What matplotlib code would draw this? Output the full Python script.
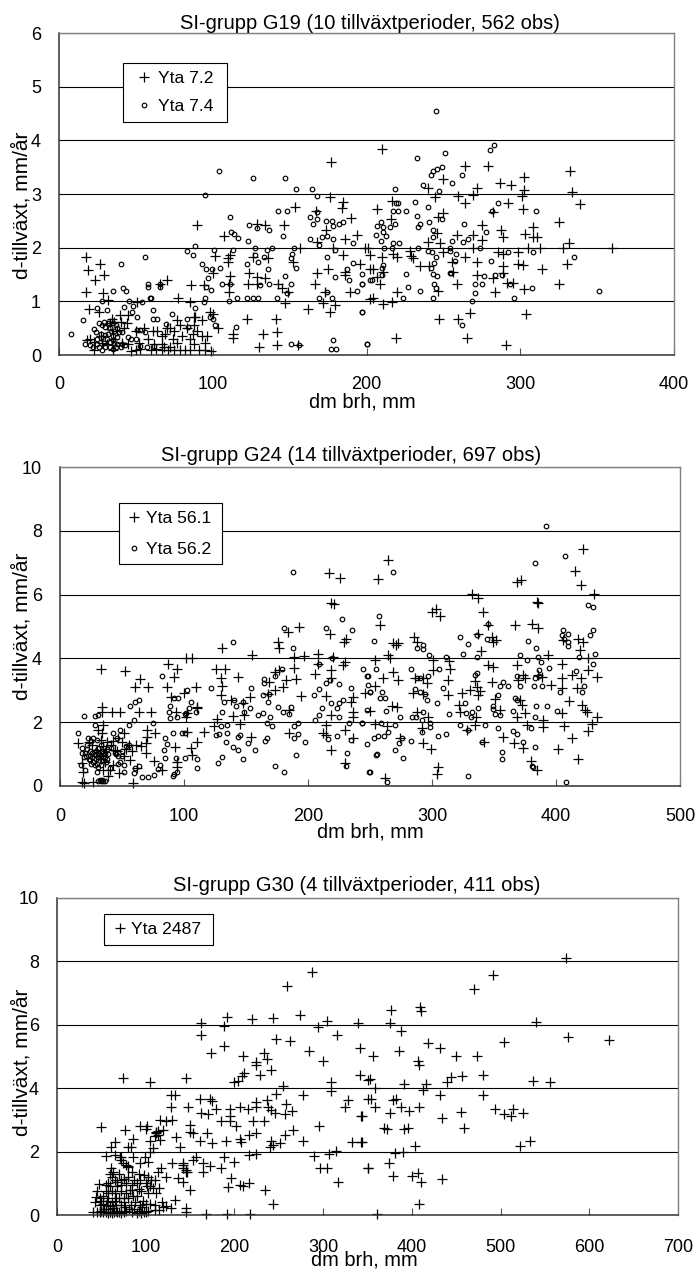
import numpy as np
import matplotlib
matplotlib.use("Agg")
from matplotlib import pyplot as plt

plt.rcParams['font.family'] = ['Liberation Sans', 'DejaVu Sans']

# (dm brh, d-tillväxt)
yta72 = [(17.4,1.82),(26.9,1.7),(19,1.58),(29,1.49),(23.6,1.39),(17.4,1.17),(28.4,1.16),(32,1.02),(19.7,.85),(26.2,.81),
 (34.3,.68),(39.7,.75),(33,.6),(20,.3),(23,.25),(35,.3),(38,.45),(42,.5),(23,.1),(35,.1),(18,.28),(27,.35),(45,.75),
 (47,.08),(50,.1),(53,.12),(50,.45),(55,.5),(60,.1),(62,.2),(63,.12),(67,.1),(67,.35),(72,.5),(69,.4),(75,.45),(77,.65),
 (79,.55),(75,.1),(79,.1),(82,.1),(85,.1),(85,.3),(88,.55),(88,.7),(93,.65),(88,.2),(93,.35),(95,.1),(99,.08),(91,.1),
 (95,.22),(72,.15),(67,.2),(70,.5),(50.5,.98),(70,1.39),(65.7,1.33),(77.6,1.07),(85,.98),(86,1.3),(94,1.3),(98,.81),
 (100,.76),(88.5,.71),(103.7,.5),(113,.39),(113,.31),(122,.68),(141,.68),(133,.4),(142,.42),(130,.14),(142,.19),(155.7,.19),
 (101.5,1.84),(110,1.8),(111,1.86),(110,1.74),(100,1.52),(111,1.48),(110.8,1.18),(110.8,1.33),(90,2.42),(107,2.22),(126,1.82),
 (128.6,2.45),(134,2.42),(146.6,2.43),(153.7,2.75),(156.8,1.99),(152.4,1.74),(123.8,1.52),(123,1.33),(128.6,1.46),(128.6,1.33),
 (134,1.43),(136,1.8),(142.7,1.33),(144.8,1.24),(149,1.18),(147,.96),(161.8,.85),(177,3.6),(176,2.95),(185,2.86),(184,2.73),
 (190,2.55),(167,2.68),(173.7,2.33),(168,2.11),(178.5,1.99),(185,1.86),(175,1.61),(167.7,1.52),(166.6,1.33),(173,1.18),
 (186,1.55),(186,1.49),(195.9,1.7),(189,1.18),(172,.96),(179.6,.93),(176,.81),(193.7,2.24),(186,2.17),(201,1.99),(202,1.61),
 (202,1.04),(209.9,3.83),(264,3.52),(279,3.52),(332.5,3.43),(302.7,3.32),(249.6,3.28),(287,3.2),(294,3.17),(240,3.11),
 (271.7,3.11),(302.7,3.07),(333.5,3.04),(244.6,2.95),(259.8,2.97),(269.5,2.98),(301,2.96),(216.8,2.87),(264,2.84),(291.9,2.84),
 (339,2.81),(207,2.72),(302,2.72),(282.6,2.67),(249.6,2.64),(246.8,2.57),(216,2.53),(324.9,2.47),(275.4,2.43),(308,2.39),
 (287.6,2.33),(245.7,2.28),(258.7,2.24),(269,2.24),(303,2.25),(308.6,2.19),(310.8,2.19),(275,2.14),(289,2.19),(240,2.11),
 (247.9,2.08),(332,2.08),(328,2),(359.6,1.99),(313,1.99),(305,1.99),(269.5,1.99),(199,1.99),(228,1.93),(229,1.85),(230.5,1.8),
 (202,1.86),(210,1.83),(219.7,1.82),(217.5,1.89),(250,1.91),(285.8,1.91),(289,1.89),(298.8,1.91),(264,1.82),(255.5,1.74),
 (272,1.73),(234.8,1.66),(240.9,1.66),(298.8,1.7),(302,1.67),(289,1.65),(204.5,1.61),(314,1.61),(330.7,1.7),(211,1.55),
 (256.5,1.55),(271.7,1.5),(282.6,1.43),(289,1.52),(206.6,1.46),(208.8,1.32),(258.7,1.32),(291.2,1.34),(295.6,1.34),(324.9,1.32),
 (302.7,1.23),(283.7,1.18),(220,1.18),(246.8,1.19),(204.5,1.06),(210.5,.95),(216.8,.98),(303.8,.76),(267.4,.79),(247.4,.67),
 (259.8,.67),(219,.32),(265.2,.32),(290.6,.19),(36,.62),(40,.62),(44,.6),(31,.55),(28,.22),(31,.2),(41,.22),(45,.2),(52,.22),
 (58,.3),(61,.45),(64,.45),(68,.14),(71,.1),(74,.3),(77,.22),(80,.35),(83,.5),(87,.4),(90,.45),(96,.35)]

yta74 = [(7.8,.4),(15.8,.66),(25,.87),(31,.84),(28,1.01),(35.4,1.19),(41.4,1.24),(43.6,1.19),(40.3,1.69),(56,1.83),(57.7,1.33),
 (57.7,1.27),(65.7,1.33),(66,1.27),(59,1.07),(60,1.07),(45.8,1.01),(53.8,.99),(48,.91),(42.3,.9),(47.3,.81),(50.5,.7),(61,.84),
 (61.4,.68),(63.5,.68),(73.3,.76),(69.8,.58),(50.5,.47),(56,.43),(52.7,.47),(83,.68),(88.5,.87),(84,.53),(98.3,.71),(100,.68),
 (94,.99),(95,1.07),(83.5,1.93),(87.4,1.86),(88.5,2.04),(100.9,1.96),(113.4,1.96),(92.8,1.69),(95.4,1.6),(99.3,1.6),(104.8,1.63),
 (96.7,1.43),(95.4,1.27),(98.9,1.22),(105.9,1.33),(111,1.33),(95,2.98),(104,3.42),(126.5,3.29),(147,3.29),(154,3.09),(164.4,3.09),
 (168,2.97),(142.7,2.68),(148,2.68),(111,2.57),(123.6,2.42),(112,2.3),(114,2.25),(116.5,2.18),(123.2,2.12),(136.7,2.33),(128.6,2.36),
 (146,2.22),(138.4,2),(135.6,1.96),(127.5,2),(127.5,1.86),(129.7,1.74),(122.6,1.7),(133.4,1.83),(135.8,1.61),(147,1.48),(150.8,1.33),
 (151.4,1.89),(153,2),(154,1.63),(151,1.8),(136.9,1.33),(130.8,1.3),(115.6,1.07),(110.8,1.01),(122.6,1.06),(126.5,1.07),(129.7,1.07),
 (142,1.07),(148,1.15),(101.5,.56),(115,.52),(151,.2),(168,2.67),(163.3,2.57),(168,2.53),(165.5,2.44),(173.7,2.5),(177.4,2.5),
 (178.5,2.4),(184.6,2.48),(182.4,2.45),(163.3,2.16),(169.3,2.05),(171.3,2.2),(174.6,2.22),(178.5,2.16),(190.9,2.09),(179.6,1.96),
 (174.6,1.83),(190.9,1.71),(179.6,1.46),(187.6,1.61),(188.3,1.4),(197,1.51),(197,1.33),(193.7,1.19),(177.4,1.07),(174,1.18),
 (168.8,1.07),(197,.81),(178.5,.28),(177,.11),(180,.11),(200,.2),(156,.19),(202,1.4),(17,.2),(20,.18),(22,.15),(25,.2),(28,.1),
 (30,.15),(33,.15),(35,.12),(37,.14),(40,.15),(25,.3),(27,.4),(23,.48),(28,.55),(30,.52),(33,.5),(38,.5),(37,.55),(30,.38),(32,.4),
 (35,.35),(35,.28),(38,.33),(34,.45),(47,.3),(45,.33),(50,.3),(53,.17),(62,.17),(57,.15),(245,4.55),(283,3.91),(280,3.82),(232.9,3.68),
 (251,3.76),(249.4,3.5),(246,3.47),(243,3.42),(241.8,3.36),(262.4,3.36),(255.5,3.2),(237,3.17),(247,3.06),(218.6,3.09),(231.8,2.86),
 (239.8,2.76),(220.7,2.83),(219.2,2.83),(285.8,2.83),(217.5,2.68),(220.7,2.68),(225.5,2.68),(232.7,2.59),(281.5,2.68),(310.3,2.68),
 (249,2.53),(209.3,2.48),(207,2.41),(210.5,2.39),(215.3,2.39),(218.6,2.44),(234.8,2.45),(233.8,2.38),(240.9,2.48),(263.5,2.45),
 (277.8,2.3),(211,2.3),(206.2,2.24),(213,2.22),(243,2.33),(243,2.2),(255.5,2.13),(266.3,2.17),(262.6,2.1),(209.3,2.13),(217.5,2.09),
 (221.4,2.09),(211.4,2),(216.4,2),(233.8,2),(254,2),(273.9,2),(240.3,1.93),(242.4,1.91),(254,1.94),(258.3,1.89),(245.2,1.83),
 (292.3,1.92),(308.6,1.92),(335,1.83),(280.8,1.75),(244,1.71),(257.6,1.75),(241.8,1.63),(210.5,1.68),(209.9,1.62),(209.9,1.5),
 (225.5,1.51),(243.1,1.51),(246.1,1.48),(254,1.52),(255,1.52),(276.7,1.48),(283.6,1.5),(288,1.5),(203.4,1.4),(244,1.33),(270.6,1.33),
 (275,1.33),(293.4,1.33),(197,1.33),(226.8,1.27),(245.2,1.24),(234.8,1.19),(270.6,1.15),(307.5,1.24),(351.5,1.19),(223.6,1.07),
 (243,1.07),(296.2,1.07),(268.5,1.01),(196.9,.81),(262.4,.55),(200,.2),(26,.6),(29,.62),(32,.6),(35,.6),(24,.42),(27,.32),(31,.3),
 (33,.25),(36,.22),(38,.2),(41,.2),(43,.18),(39,.42),(41,.42),(36,.45),(29,.22),(26,.15)]

yta561 = [(33,3.66),(52.7,3.59),(64.9,3.36),(60.3,3.11),(70.8,3.11),(87.3,3.84),(94.6,3.66),(91.9,3.42),(85.9,3.11),(101.4,4),(106.8,4),
 (109.5,3.09),(100,2.9),(89.2,2.8),(131,4.34),(175.7,4.52),(177,4.34),(154.9,4.1),(126.2,3.66),(133.2,3.66),(143.2,3.42),(129.7,3.37),
 (131,3.13),(129.7,2.85),(33.8,2.48),(33.8,2.33),(41.9,2.33),(48.6,2.33),(63.5,2.33),(73,2.33),(93.2,2.33),(102.7,2.28),(110.8,2.43),
 (35,1.91),(14.9,1.36),(23,1.39),(29.7,1.13),(17.6,.73),(18.9,.43),(17.6,.14),(27,.14),(19,.08),(58.9,.08),(47.3,.4),(39,.3),(43,.66),
 (56.8,.81),(75.7,.79),(69.7,1.04),(69.7,1.34),(70.3,1.54),(77,1.65),(70.3,1.75),(51.4,1.65),(50,1.39),(55.4,1.28),(61,1.28),(44.6,1.13),
 (37.8,1.39),(33.8,1.65),(94,.76),(94,.6),(92.4,1.21),(105.4,1.18),(106.8,.97),(110.8,1.39),(116.2,1.7),(123.8,1.89),(127,2.09),
 (102.7,1.7),(101.4,2.17),(110.8,2.48),(137.8,2.71),(139.9,2.19),(145.4,1.94),(148.6,2.22),(153.5,2.8),(147.3,2.59),(154,1.54),(185,1.65),
 (185,2.38),(179.7,3.09),(182.4,3.32),(190.5,3.34),(173,3.58),(168.9,3.27),(173,3.01),(167.6,2.88),(177,3.63),(188.9,3.7),(188.9,4.05),
 (196.5,4.07),(194.6,2.82),(183.8,4.83),(192.4,4.97),(208,4.13),(216.8,6.69),(225.7,6.52),(218.4,5.75),(221,5.72),(217.6,4.78),(229,4.52),
 (231,4.6),(206,3.5),(208,3.84),(220.3,4.05),(218.4,3.65),(218.4,3.37),(229.7,3.89),(228.4,3.79),(214.9,2.82),(218.9,2.22),(236.5,2.8),
 (235,2.64),(236.5,2.33),(236.5,2.17),(229.7,1.77),(236.5,1.52),(214.9,1.91),(212,1.65),(214.9,1.6),(218.9,1.13),(229.7,.71),(246,2.93),
 (264.7,7.1),(256.7,6.5),(332,6.01),(337.3,5.9),(368.2,6.4),(371.7,6.45),(384.4,5.77),(385.7,5.75),(422,7.44),(415.3,6.74),(420,6.29),
 (430.9,6.03),(341.4,5.46),(299.7,5.46),(303.2,5.56),(306.4,5.33),(258,5.04),(366.9,5.06),(380.9,5.07),(385.2,4.96),(345.4,5.04),
 (337.3,4.78),(348.6,4.68),(352,4.57),(349.5,4.52),(285.7,4.66),(287.6,4.52),(268.8,4.49),(272.3,4.47),(271,4.42),(405.9,4.57),(418,4.6),
 (421.5,4.52),(419.3,4.26),(339.2,4.23),(393.8,4.1),(264.8,4.1),(266,4),(254,3.95),(301,3.95),(314,3.93),(314.5,3.68),(300.5,3.63),
 (313,3.32),(268.2,3.58),(272.8,3.32),(260.7,3.37),(254,3.13),(345.4,3.79),(349.5,3.72),(368.2,3.79),(405,3.81),(426,4),(426,3.63),
 (433.3,3.42),(404.5,3.4),(412.6,3.48),(420,3.37),(373.6,3.48),(375,3.37),(385.7,3.48),(388.4,3.42),(369.6,3.32),(348,3.25),(395.7,3.18),
 (404.5,3.08),(416.6,3.06),(334.6,3.3),(336,3.11),(323.9,2.93),(330.6,3),(338.7,2.98),(337.3,2.85),(350.8,2.72),(371,2.69),(372.3,2.54),
 (410.7,2.67),(420.7,2.54),(423.4,2.38),(424.7,2.33),(321.7,2.54),(322.5,2.33),(286.3,3.37),(293,3.37),(295.7,3.24),(285,2.9),(293,2.88),
 (312.6,2.85),(267.4,2.5),(271.5,2.48),(250,2.36),(287.6,2.33),(375,2.28),(297,2.17),(335.5,2.17),(354.8,2.38),(368.2,2.17),(389.8,2.07),
 (389.8,1.86),(432.8,2.17),(428.7,1.94),(426,1.73),(406.4,1.88),(404.5,2.28),(376.3,1.91),(254,1.94),(263.4,1.88),(291.6,1.81),(328.5,1.75),
 (334.6,1.91),(357.5,1.54),(342.2,1.37),(274.2,1.49),(293,1.36),(298.9,1.15),(366.1,1.34),(373.6,1.18),(401.3,1.15),(412.6,1.49),(418,.84),
 (305,.61),(304.3,.37),(379.5,.79),(384.4,.5),(262,.24),(31,1.75),(33,1.45),(35,1.25),(32,1.05),(35,.95),(37,1.15),(29,.95),(26,1.3),
 (41,1.3),(43,1.4),(47,1.5),(46,1.1),(53,1.15),(58,1.1),(40,.5),(33,.85),(36,.75),(52,.95),(65,1.25),(82,.5),(35,.5),(62,.55)]

yta562 = [(14.2,1.67),(19.5,2.21),(28.4,2.21),(22.4,1.51),(28.4,1.91),(31,2.22),(56.8,2.52),(60.8,2.64),(63.5,2.71),(59.5,2.07),(55.4,1.91),
 (75,1.96),(48.6,1.77),(43,1.65),(45.9,1.49),(82.4,3.44),(91.9,2.75),(95,2.75),(89,2.52),(87.7,2.33),(89,2.12),(94.6,2.15),(91.4,1.67),
 (85,1.52),(86.5,1.32),(83.8,1.13),(85,.89),(93.2,.87),(100.5,.89),(110.8,.84),(110.8,.57),(94,.45),(91.9,.37),(91.4,.32),(98.6,1.65),
 (100.5,1.67),(102.7,3),(100.5,2.25),(101.9,2.28),(105.4,2.62),(104,2.43),(109.5,2.33),(121.6,3.06),(132.4,2.62),(131,2.33),(129.7,1.89),
 (134.3,1.91),(128.4,1.63),(134.3,1.67),(126.2,1.6),(133.6,1.39),(139.3,4.5),(153.7,3.06),(140.5,2.69),(147.3,2.64),(141.9,2.52),(148.6,2.33),
 (153.2,2.43),(160,2.22),(164,2.28),(169.4,2.17),(166.6,1.96),(170.7,1.88),(166.6,1.51),(165.3,1.41),(143.8,1.54),(145.2,1.6),(139.8,1.23),
 (143.2,1.13),(151.9,1.34),(157.3,1.13),(147.8,.84),(131,.92),(127.6,.73),(173,.63),(180.3,.43),(164.9,3.35),(164.9,3.22),(163.5,2.85),
 (168.9,2.87),(167.6,2.64),(173,3.44),(178.8,3.68),(176.2,2.48),(179.7,2.33),(186,2.48),(184.3,2.25),(188,6.71),(180.3,4.94),(187.8,4.33),
 (190.5,.97),(197.3,1.37),(191.9,1.63),(188.9,1.51),(188.9,1.88),(191.9,1.96),(204.9,2.85),(208.6,3.04),(211.4,2.45),(208.6,2.22),(206,2.07),
 (214.9,4.94),(227.8,5.23),(235.7,4.89),(209,3.84),(219,4),(214.9,3.22),(224.6,3.19),(217.6,3.33),(234.7,3.06),(218.9,2.61),(223,2.45),
 (225.2,2.59),(228.4,2.71),(225.2,2.17),(233.3,1.96),(243.3,1.96),(247.3,2.38),(247.3,1.32),(235,1.44),(223,1.58),(216.2,1.47),(231.7,1.02),
 (230.6,.63),(249.5,.43),(244.6,3.68),(248.6,3.44),(250,2.95),(248.6,3.16),(66,.29),(70.8,.29),(76,.34),(78.9,.52),(80.5,.66),(63.5,.63),
 (60.8,.55),(59.5,.4),(51.4,.45),(48.6,.76),(51.4,.66),(18,1.2),(20,1.05),(22,1.3),(25,1.4),(27,1.5),(30,1.45),(31,1.2),(24,1.1),(21,.95),
 (23,.85),(26,.9),(28,1),(33,.95),(36,.9),(38,.85),(35,1.05),(38,1.15),(33,1.3),(30,.7),(27,.75),(33,.65),(30,.45),(32,.2),(33,.15),(35,.15),
 (36,.17),(20,.5),(17,.65),(40,.55),(45,1),(47,.95),(50,.95),(53,1.25),(391.6,8.14),(407.2,7.21),(382.8,7),(268.8,6.71),(426,5.67),(430,5.62),
 (257.5,5.33),(345.4,5.07),(405.3,4.89),(430,4.89),(404.5,4.73),(409.4,4.75),(427.4,4.73),(406.7,4.62),(409.4,4.52),(409.4,4.38),(322.5,4.68),
 (336,4.73),(344,4.62),(253.5,4.53),(329.3,4.44),(377.7,4.53),(383.8,4.33),(293,4.42),(288.1,4.33),(293,4.31),(325.2,4.13),(336.5,4.05),
 (297.5,4.1),(311.3,4.03),(385.2,4.03),(418.5,4.05),(431.4,4.13),(371,4.1),(376.3,3.95),(387.9,3.89),(430,3.84),(254.5,3.68),(282.8,3.68),
 (305.9,3.68),(394.3,3.7),(386.5,3.65),(415.8,3.62),(247.3,3.44),(336,3.55),(334.6,3.48),(296.5,3.44),(287.6,3.37),(290.3,3.37),(368.2,3.44),
 (383,3.37),(386.5,3.44),(357.5,3.26),(354.8,3.15),(361,3.15),(371,3.15),(382.5,3.15),(388.4,3.15),(422.5,3.15),(403.2,2.95),(420.7,2.95),
 (250,2.95),(259.4,2.95),(308.6,3.06),(286.3,3.03),(290.3,2.95),(294.3,2.88),(295.7,2.71),(262,2.75),(258,2.75),(353,2.85),(366.9,2.77),
 (368.8,2.71),(326.6,2.59),(349.5,2.5),(349.5,2.4),(304.3,2.59),(336.8,2.45),(332.5,2.33),(383.8,2.5),(393,2.5),(365,2.36),(400.5,2.36),
 (262.6,2.36),(293,2.33),(313.7,2.25),(350.8,2.25),(354.8,2.22),(274.2,2.17),(284.1,2.17),(287,2.17),(327.4,2.28),(331.4,2.17),(383,2.17),
 (291.6,2.07),(298.3,1.96),(298.3,1.86),(322.5,1.91),(342.7,1.91),(243.2,1.96),(258.8,1.96),(270.1,1.91),(328.7,1.77),(353.5,1.81),(379.8,1.81),
 (264.8,1.7),(291.6,1.7),(365,1.72),(368.2,1.62),(261.3,1.58),(256.7,1.58),(253.5,1.51),(304.5,1.57),(311.3,1.62),(282.8,1.42),(275.5,1.51),
 (273.6,1.36),(340.3,1.37),(373.6,1.37),(383,1.21),(270.1,1.13),(356.2,1.08),(255.9,1),(254.8,.97),(276.3,.87),(356.2,.84),(380.3,.63),
 (381.7,.58),(250,.43),(328.7,.32),(264,.14),(408,.13),(24,.95),(26,1.05),(29,1.1),(31,1.05),(34,1.1),(36,1),(29,.85),(31,.9),(24,.8),
 (25,.7),(28,.65),(31,.6),(34,.8),(37,.75),(39,1),(41,1.2),(44,1.05),(47,.7),(50,1.1),(56,1.3),(18,1.05),(22,1.15),(19,.9),(34,.18),(31,.17)]

yta2487 = [(288,7.66),(259,7.21),(273.7,6.32),(192,6.26),(162,6.07),(188.3,5.97),(220,6.18),(243.6,6.22),(303.8,6.13),(294.4,5.92),(339.5,6.07),
 (162,5.68),(247.4,5.56),(263,5.5),(316,5.68),(188,5.34),(174,5.1),(284,5.16),(209.8,5.03),(300,4.86),(341,5.28),(233,5.1),(236.8,4.92),
 (224,4.84),(224,4.72),(241.7,4.58),(228.6,4.42),(210.5,4.47),(208,4.37),(204,4.23),(199,4.18),(74.4,4.32),(105.3,4.21),(145,4.32),(255,4.07),
 (247.4,3.82),(309,4.18),(309,3.92),(341,4.42),(350.8,4.26),(277.4,3.77),(129,3.79),(132.7,3.77),(161,3.66),(173,3.66),(175,3.61),(224,3.58),
 (236.8,3.63),(258.6,3.5),(328.2,3.63),(324.4,3.42),(350.8,3.66),(128.2,3.42),(147.7,3.42),(179.7,3.35),(194.7,3.35),(206,3.42),(215.4,3.34),
 (224.8,3.42),(238,3.4),(241.7,3.32),(246.2,3.21),(256.8,3.19),(265.4,3.28),(162,3.21),(170.3,3.19),(343.2,3.13),(194.7,3.11),(130,3),
 (123.3,2.95),(116.5,3),(93.2,2.82),(101.5,2.82),(100.8,2.72),(50,2.78),(76.3,2.68),(149.6,2.84),(185.3,2.98),(194.7,2.98),(221,2.98),(233,2.98),
 (202.3,2.82),(295.5,2.82),(266.2,2.68),(169,2.58),(224.8,2.58),(216.5,2.53),(257.5,2.53),(149.6,2.63),(153.4,2.58),(119.5,2.68),(112,2.63),
 (113.9,2.53),(134.6,2.45),(115.8,2.37),(85.7,2.4),(65,2.29),(104.5,2.32),(138.3,2.16),(160.9,2.35),(174.8,2.28),(190.2,2.32),(206,2.39),
 (207.9,2.29),(241.7,2.35),(251.9,2.28),(277.4,2.34),(332,2.29),(343.2,2.29),(61.3,2.16),(80,2.16),(83.8,2.16),(108.3,2.11),(104.5,2),(239.8,2.16),
 (243.6,2.21),(216.5,1.89),(224.8,1.93),(54.9,1.87),(65,1.89),(72.6,1.82),(85.7,1.84),(98.9,1.84),(289.5,1.86),(306.8,1.93),(314.3,2.03),
 (156.4,1.84),(188.3,1.82),(199.2,1.68),(130,1.63),(142,1.63),(164.7,1.63),(172.2,1.56),(185.3,1.49),(153.4,1.74),(74.4,1.63),(80,1.56),(93.2,1.63),
 (102.6,1.68),(61.3,1.47),(117.7,1.49),(113.9,1.37),(142,1.47),(145.8,1.37),(165,1.37),(296.2,1.49),(304.5,1.49),(350,1.49),(316.2,1.03),
 (123.3,1.19),(136.5,1.16),(142,1.03),(196.6,1.16),(192.9,.89),(206,.95),(209.8,.92),(216.5,1.02),(149.6,.79),(235,.79),(243.6,.35),(132.7,.47),
 (129,.21),(123.3,.28),(145,.21),(145.8,.11),(168.4,.03),(192,.03),(218,.03),(40.6,.11),(42.5,.42),(47.4,.97),(44.4,.58),(45,.1),(48,.1),(50,.12),
 (52,.08),(55,.1),(57,.05),(60,.08),(62,.05),(64,.1),(66,.12),(68,.08),(70,.1),(72,.05),(75,.1),(78,.12),(85,.1),(90,.07),(92,.12),(95,.05),
 (98,.08),(100,.1),(103,.12),(48,.3),(50,.45),(52,.6),(55,.3),(55,.75),(58,.55),(60,.9),(62,.4),(65,.7),(65,1.1),(67,.3),(68,.9),(70,.55),(72,.75),
 (75,.4),(78,.7),(78,1),(80,.55),(83,.3),(85,.8),(87,1.1),(90,.6),(90,1),(92,1.3),(95,.75),(97,.45),(100,1),(103,.7),(103,1.2),(105,.9),(108,.85),
 (110,1.1),(112,.7),(115,.85),(118,.4),(62,1.2),(58,1),(70,1.3),(75,1.15),(80,1.2),(85,1.35),(55,.95),(45,.75),(120,.25),(115,.15),(110,.15),
 (70.7,1.84),(72,1.75),(78,1.58),(80,1.5),(112,2.58),(114,2.65),(142,1.58),(145,1.42),(147,1.37),(111,2.48),(60,1.3),(63,1.35),(72,1.1),
 (68,1.05),(58,.2),(60,.28),(63,.22),(65,.45),(72,.3),(76,.55),(82,.8),(84,.95),(88,.4),(92,.82),(94,1.1),(98,1.25),(101,.9),(106,1.1),(53,.2),
 (56,.45),(48,.55),(52,.35),(58,.7),(62,.75),(66,.55),(72,.95),(77,.25),(81,.2),(86,.6),(96,.25),(100,.35),(105,.35),(110,.3),(87,.2),(94,.3),
 (574,8.1),(492,7.56),(469.5,7.13),(409.4,6.55),(410.5,6.42),(376.7,6.47),(374.8,6.05),(540,6.1),(387.6,5.82),(576,5.63),(621.8,5.53),(503.4,5.47),
 (418,5.42),(432,5.28),(385.7,5.18),(356,5.03),(450,5.03),(473.3,5.03),(406.8,4.86),(408.6,4.74),(480,4.42),(457,4.39),(444,4.34),(439.5,4.18),
 (536.5,4.22),(556,4.18),(352.3,4.28),(358.6,4.02),(391.4,4.13),(416.2,4.13),(412.4,3.95),(432,3.79),(480,3.79),(353.8,3.66),(379.3,3.63),
 (382.3,3.66),(358.6,3.42),(387.6,3.42),(397,3.28),(407.5,3.42),(375.6,3.23),(343.6,3.13),(433.8,3.07),(455.3,3.24),(494,3.34),(504,3.18),
 (513.9,3.34),(511.7,3.13),(524.8,3.23),(368.8,2.74),(371.8,2.71),(390.6,2.71),(395.1,2.74),(459,2.74),(533.5,2.35),(522.2,2.18),(343.6,2.29),
 (403.8,2.18),(380.5,1.95),(389.5,2),(373.7,1.63),(350,1.49),(378.6,1.24),(400,1.24),(406.8,1.34),(410.5,1.03),(433.8,1.14),(408.6,.35),(360.5,.03)]

W, H = 697, 1269


def panel(box, xmax, ymax, ystep, title, title_px, plus, circ, leg_box, names, leg_style, xlab_px, ylab_y, xpad):
    l, t, r, b = box
    ax = fig.add_axes([l / W, 1 - b / H, (r - l) / W, (b - t) / H])
    ax.set_xlim(0, xmax)
    ax.set_ylim(0, ymax)
    ax.set_xticks(np.arange(0, xmax + 1, 100))
    ax.set_yticks(np.arange(0, ymax + 1, ystep))
    ax.yaxis.grid(True, color='black', lw=0.8)
    ax.set_axisbelow(True)
    ax.tick_params(axis='x', direction='in', length=5, width=0.8, color='#555555', labelsize=13, pad=xpad)
    ax.tick_params(axis='y', length=0, labelsize=13, pad=13)
    for s in ['top', 'right']:
        ax.spines[s].set_color('#808080')
        ax.spines[s].set_linewidth(1)
    for s in ['left', 'bottom']:
        ax.spines[s].set_color('#333333')
        ax.spines[s].set_linewidth(1.1)

    px, py = np.array(plus).T
    ax.plot(px, py, '+', color='black', ms=7, mew=0.9, clip_on=False, label=names[0])
    if circ is not None:
        cx, cy = np.array(circ).T
        ax.plot(cx, cy, 'o', mfc='none', mec='black', ms=3.3, mew=0.85, clip_on=False, label=names[1])

    fig.text(title_px[0] / W, 1 - title_px[1] / H, title, ha='center', va='baseline', fontsize=14.5)
    fig.text(xlab_px[0] / W, 1 - xlab_px[1] / H, 'dm brh, mm', ha='center', va='center', fontsize=14.4)
    fig.text(21.5 / W, 1 - ylab_y / H, 'd-tillväxt, mm/år', rotation=90, ha='center', va='center', fontsize=15)

    # legendrutan placeras i pixlar som i originalet
    x0, y0, x1, y1 = leg_box
    bb = ((x0 - l) / (r - l), (b - y1) / (b - t), (x1 - x0) / (r - l), (y1 - y0) / (b - t))
    leg = ax.legend(loc='center', bbox_to_anchor=bb, mode='expand', ncol=1, fontsize=12.6, fancybox=False, framealpha=1,
                    edgecolor='black', borderaxespad=0, **leg_style)
    leg.get_frame().set_linewidth(0.8)
    return ax


fig = plt.figure(figsize=(W / 100, H / 100), dpi=100)

panel((59, 33, 674, 355), 400, 6, 1, 'SI-grupp G19 (10 tillväxtperioder, 562 obs)', (370, 29), yta72, yta74,
      (123, 61, 227, 124), ['Yta 7.2', 'Yta 7.4'],
      dict(borderpad=0.465, labelspacing=0.72, handlelength=1.5, handletextpad=0.05), (362, 402), 205, 15)
panel((60, 467, 680, 786), 500, 10, 2, 'SI-grupp G24 (14 tillväxtperioder, 697 obs)', (351, 461), yta561, yta562,
      (119, 501, 222, 566), ['Yta 56.1', 'Yta 56.2'],
      dict(borderpad=0.4, labelspacing=0.9, handlelength=0.9, handletextpad=0.25), (370, 832), 626, 16)
panel((57, 898, 678, 1215), 700, 10, 2, 'SI-grupp G30 (4 tillväxtperioder, 411 obs)', (357, 891), yta2487, None,
      (104, 912, 213, 947), ['Yta 2487'],
      dict(borderpad=0.45, labelspacing=0.55, handlelength=0.9, handletextpad=0.2), (364, 1260), 1062, 17)

fig.savefig('out.png', dpi=100)
